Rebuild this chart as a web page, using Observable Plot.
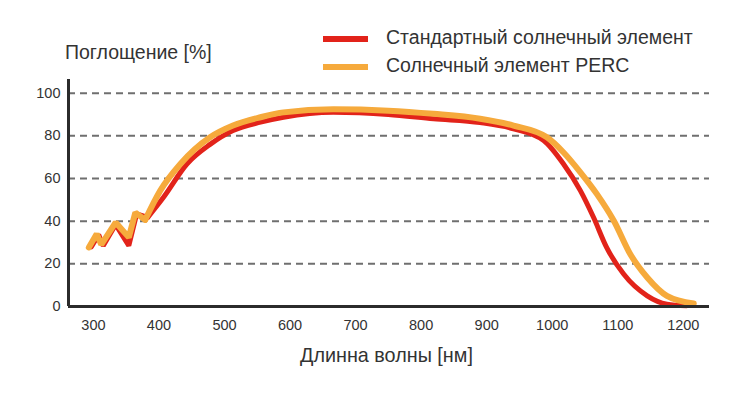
<!DOCTYPE html>
<html>
<head>
<meta charset="utf-8">
<script src="https://cdn.jsdelivr.net/npm/d3@7"></script>
<script src="https://cdn.jsdelivr.net/npm/@observablehq/plot@0.6"></script>
<style>
  html, body { margin: 0; padding: 0; background: #fff; }
  #wrap { position: relative; width: 749px; height: 393px; font-family: "Liberation Sans", Arial, sans-serif; color: #333; }
  .lbl { position: absolute; white-space: nowrap; transform: translateY(-50%); line-height: 1; }
  .sw { position: absolute; width: 45px; height: 6px; transform: translateY(-50%); }
</style>
</head>
<body>
<div id="wrap">
  <div id="chart"></div>
  <div class="lbl" style="left:65px; top:53px; font-size:19.5px;">Поглощение [%]</div>
  <div class="lbl" style="left:300px; top:356px; font-size:19.8px;">Длинна волны [нм]</div>
  <div class="sw" style="left:323px; top:39px; background:#e2231a;"></div>
  <div class="lbl" style="left:386px; top:38px; font-size:19.5px;">Стандартный солнечный элемент</div>
  <div class="sw" style="left:323px; top:67px; background:#f6aa3c;"></div>
  <div class="lbl" style="left:386px; top:66px; font-size:19.5px;">Солнечный элемент PERC</div>
</div>
<script>
// Wavelength (nm) and absorption (%)
const stdNm  = [297, 308, 315, 334, 354, 366, 383, 407, 443, 478, 513, 555, 590, 666, 750, 819, 890, 941, 987, 1017, 1043, 1063, 1083, 1109, 1145, 1175, 1205];
const stdVal = [28, 33.6, 28.5, 38.4, 28.5, 43.4, 41.8, 51.2, 66.9, 76, 82.5, 86.4, 88.7, 91, 90, 88, 86.2, 83.3, 77.8, 66.9, 54.3, 41.8, 27.7, 15.2, 5, 1.1, 0.3];

const percNm  = [293, 305, 312, 334, 354, 364, 379, 402, 433, 478, 513, 555, 590, 666, 750, 819, 890, 941, 992, 1017, 1043, 1068, 1094, 1119, 1145, 1175, 1216];
const percVal = [27.7, 34, 29, 39.4, 32.4, 44, 40.6, 54.3, 66.9, 79.3, 84.8, 88.7, 91, 92.4, 91.8, 90.3, 88, 84.8, 79.3, 72.3, 62.9, 52.8, 40.2, 24.6, 13.6, 5, 1.4];

const xTicks = [300, 400, 500, 600, 700, 800, 900, 1000, 1100, 1200];
const yTicks = [0, 20, 40, 60, 80, 100];
const xDomain = [262, 1240];
const yDomain = [0, 106.4];

const std = stdNm.map((x, i) => ({x, y: stdVal[i]}));
const perc = percNm.map((x, i) => ({x, y: percVal[i]}));

const chart = Plot.plot({
  width: 749, height: 393,
  marginLeft: 68, marginRight: 40, marginTop: 79, marginBottom: 87,
  x: {domain: xDomain},
  y: {domain: yDomain},
  style: {fontFamily: "Liberation Sans, Arial, sans-serif", fontSize: "14.5px", color: "#333", background: "transparent"},
  marks: [
    Plot.ruleY(yTicks.filter(d => d > 0), {stroke: "#6f6f6f", strokeWidth: 2, strokeDasharray: "7,5"}),
    Plot.axisX({ticks: xTicks, tickSize: 0, tickPadding: 13, label: null, fontSize: 14.5, tickFormat: d => String(d)}),
    Plot.axisY({ticks: yTicks, tickSize: 0, tickPadding: 8, label: null, fontSize: 14.5}),
    Plot.line(std.filter(d => d.x <= 383), {x: "x", y: "y", stroke: "#e2231a", strokeWidth: 5, curve: "linear", strokeLinejoin: "miter"}),
    Plot.line(std.filter(d => d.x >= 383), {x: "x", y: "y", stroke: "#e2231a", strokeWidth: 5, curve: "monotone-x"}),
    Plot.line(perc.filter(d => d.x <= 379), {x: "x", y: "y", stroke: "#f6aa3c", strokeWidth: 6, curve: "linear", strokeLinejoin: "miter"}),
    Plot.line(perc.filter(d => d.x >= 379), {x: "x", y: "y", stroke: "#f6aa3c", strokeWidth: 6, curve: "monotone-x"}),
    Plot.ruleY([0], {stroke: "#2b2b2b", strokeWidth: 3}),
    Plot.ruleX([xDomain[0]], {y1: yDomain[0], y2: yDomain[1], stroke: "#2b2b2b", strokeWidth: 3})
  ]
});
document.getElementById("chart").appendChild(chart);
</script>
</body>
</html>
